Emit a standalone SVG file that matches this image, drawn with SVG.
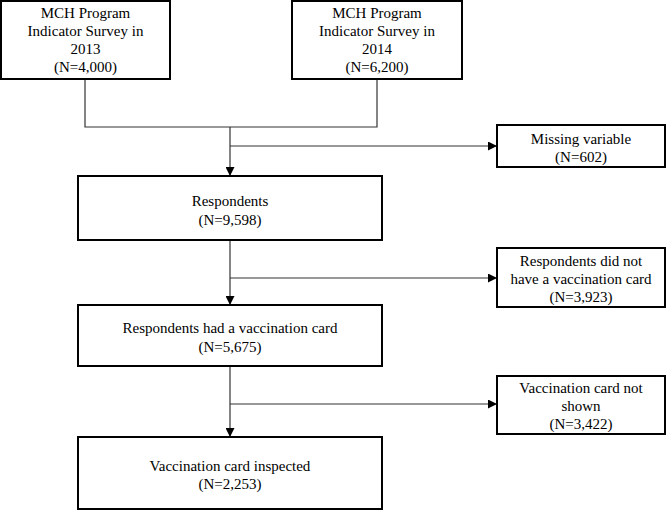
<svg xmlns="http://www.w3.org/2000/svg" width="667" height="511" viewBox="0 0 667 511">
<style>
.box{fill:#fff;stroke:#000;stroke-width:2}
.t{font-family:"Liberation Serif","Times New Roman",serif;font-size:15px;fill:#000;text-anchor:middle}
.c{fill:none;stroke:#333;stroke-width:1.2}
</style>
<defs>
<marker id="ah" viewBox="0 0 10 10" refX="10" refY="5" markerWidth="10" markerHeight="9" markerUnits="userSpaceOnUse" orient="auto">
<path d="M0,0 L10,5 L0,10 z" fill="#000"/>
</marker>
</defs>
<rect width="667" height="511" fill="#fff"/>
<g id="connectors">
<polyline class="c" points="85,79 85,127 377,127 377,79"/>
<line class="c" x1="230" y1="127" x2="230" y2="176" marker-end="url(#ah)"/>
<line class="c" x1="230" y1="146" x2="497" y2="146" marker-end="url(#ah)"/>
<line class="c" x1="230" y1="240" x2="230" y2="305" marker-end="url(#ah)"/>
<line class="c" x1="230" y1="278" x2="497" y2="278" marker-end="url(#ah)"/>
<line class="c" x1="230" y1="366" x2="230" y2="437" marker-end="url(#ah)"/>
<line class="c" x1="230" y1="404" x2="497" y2="404" marker-end="url(#ah)"/>
</g>
<g id="survey2013">
<rect class="box" x="1" y="1" width="169" height="78"/>
<text class="t" x="85.5"><tspan x="85.5" y="18">MCH Program</tspan><tspan x="85.5" y="36">Indicator Survey in</tspan><tspan x="85.5" y="54">2013</tspan><tspan x="85.5" y="72">(N=4,000)</tspan></text>
</g>
<g id="survey2014">
<rect class="box" x="292" y="1" width="170" height="78"/>
<text class="t" x="377"><tspan x="377" y="18">MCH Program</tspan><tspan x="377" y="36">Indicator Survey in</tspan><tspan x="377" y="54">2014</tspan><tspan x="377" y="72">(N=6,200)</tspan></text>
</g>
<g id="missing">
<rect class="box" x="497" y="125" width="168" height="42"/>
<text class="t" x="581"><tspan x="581" y="144">Missing variable</tspan><tspan x="581" y="162">(N=602)</tspan></text>
</g>
<g id="respondents">
<rect class="box" x="78" y="176" width="304" height="64"/>
<text class="t" x="230"><tspan x="230" y="206">Respondents</tspan><tspan x="230" y="225">(N=9,598)</tspan></text>
</g>
<g id="nocard">
<rect class="box" x="497" y="248" width="168" height="59"/>
<text class="t" x="581"><tspan x="581" y="266">Respondents did not</tspan><tspan x="581" y="284">have a vaccination card</tspan><tspan x="581" y="302">(N=3,923)</tspan></text>
</g>
<g id="hadcard">
<rect class="box" x="78" y="305" width="304" height="61"/>
<text class="t" x="230"><tspan x="230" y="333">Respondents had a vaccination card</tspan><tspan x="230" y="352">(N=5,675)</tspan></text>
</g>
<g id="notshown">
<rect class="box" x="497" y="376" width="168" height="58"/>
<text class="t" x="581"><tspan x="581" y="393">Vaccination card not</tspan><tspan x="581" y="411">shown</tspan><tspan x="581" y="429">(N=3,422)</tspan></text>
</g>
<g id="inspected">
<rect class="box" x="78" y="437" width="304" height="72"/>
<text class="t" x="230"><tspan x="230" y="471">Vaccination card inspected</tspan><tspan x="230" y="489">(N=2,253)</tspan></text>
</g>
</svg>
